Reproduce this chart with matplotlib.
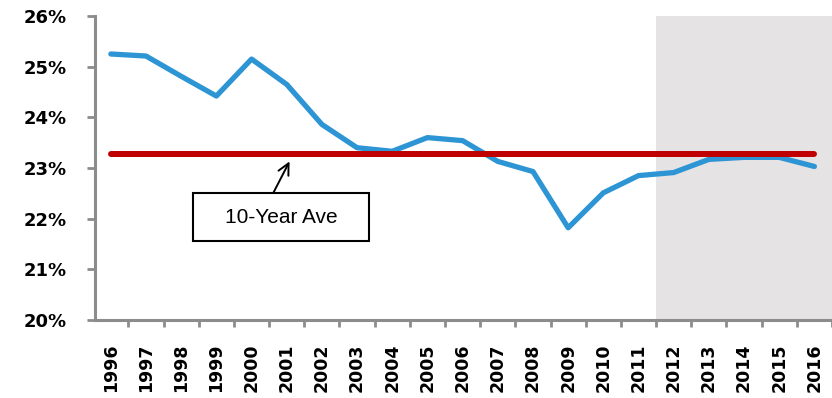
import numpy as np
import matplotlib.pyplot as plt
from matplotlib.patches import Rectangle
from matplotlib.ticker import FuncFormatter

# Share by year, in percent
years = [str(y) for y in range(1996, 2017)]
share = [25.25, 25.21, 24.81, 24.42, 25.15, 24.65, 23.86, 23.40, 23.33, 23.60,
         23.54, 23.13, 22.93, 21.82, 22.51, 22.85, 22.91, 23.17, 23.21, 23.21, 23.03]
ten_year_ave = 23.27
forecast_start = "2012"

x = np.arange(len(years))
blue = "#2e95d5"
red = "#c00000"
axis_grey = "#8c8c8c"

fig = plt.figure(figsize=(8.32, 3.98), dpi=100)
ax = fig.add_axes([95 / 832, 78 / 398, 737 / 832, 304 / 398])

# shaded forecast period
fs = years.index(forecast_start)
ax.axvspan(fs - 0.5, len(years), color="#e5e3e3", zorder=0, lw=0)

ax.plot(x, share, color=blue, lw=3.8, solid_capstyle="round",
        solid_joinstyle="round", zorder=2)
ax.plot(x, [ten_year_ave] * len(x), color=red, lw=4.3,
        solid_capstyle="round", zorder=3)

# label box with arrow pointing at the average line
ax.add_patch(Rectangle((2.34, 21.56), 5.0, 0.95, fc="white", ec="black",
                       lw=1.5, zorder=4))
ax.text(4.84, 22.03, "10-Year Ave", ha="center", va="center", fontsize=15,
        family="Liberation Sans", zorder=5)
ax.annotate("", xy=(5.08, ten_year_ave - 0.14), xytext=(4.62, 22.51),
            arrowprops=dict(arrowstyle="->", color="black", lw=1.4,
                            mutation_scale=20, shrinkA=0, shrinkB=0),
            zorder=4)

ax.set_xlim(-0.45, 20.28)
ax.set_ylim(20, 26)
ax.set_yticks(np.arange(20, 27, 1))
ax.yaxis.set_major_formatter(FuncFormatter(lambda v, p: f"{v:.0f}%"))
ax.set_xticks(x)
ax.set_xticklabels(years, rotation=90)
ax.set_xticks(np.arange(0.5, len(years), 1), minor=True)

for lab in ax.get_yticklabels() + ax.get_xticklabels():
    lab.set_fontweight("bold")
    lab.set_family("DejaVu Sans")
for lab in ax.get_yticklabels():
    lab.set_fontsize(13)
for lab in ax.get_xticklabels():
    lab.set_fontsize(12.5)

ax.tick_params(axis="x", which="major", length=0, pad=17)
ax.tick_params(axis="x", which="minor", length=5, width=2, color=axis_grey,
               direction="out")
ax.tick_params(axis="y", length=6, width=2, color=axis_grey, pad=14)

for side in ("top", "right"):
    ax.spines[side].set_visible(False)
for side in ("left", "bottom"):
    ax.spines[side].set_color(axis_grey)
    ax.spines[side].set_linewidth(2.2)

fig.savefig("out.png", dpi=100)
